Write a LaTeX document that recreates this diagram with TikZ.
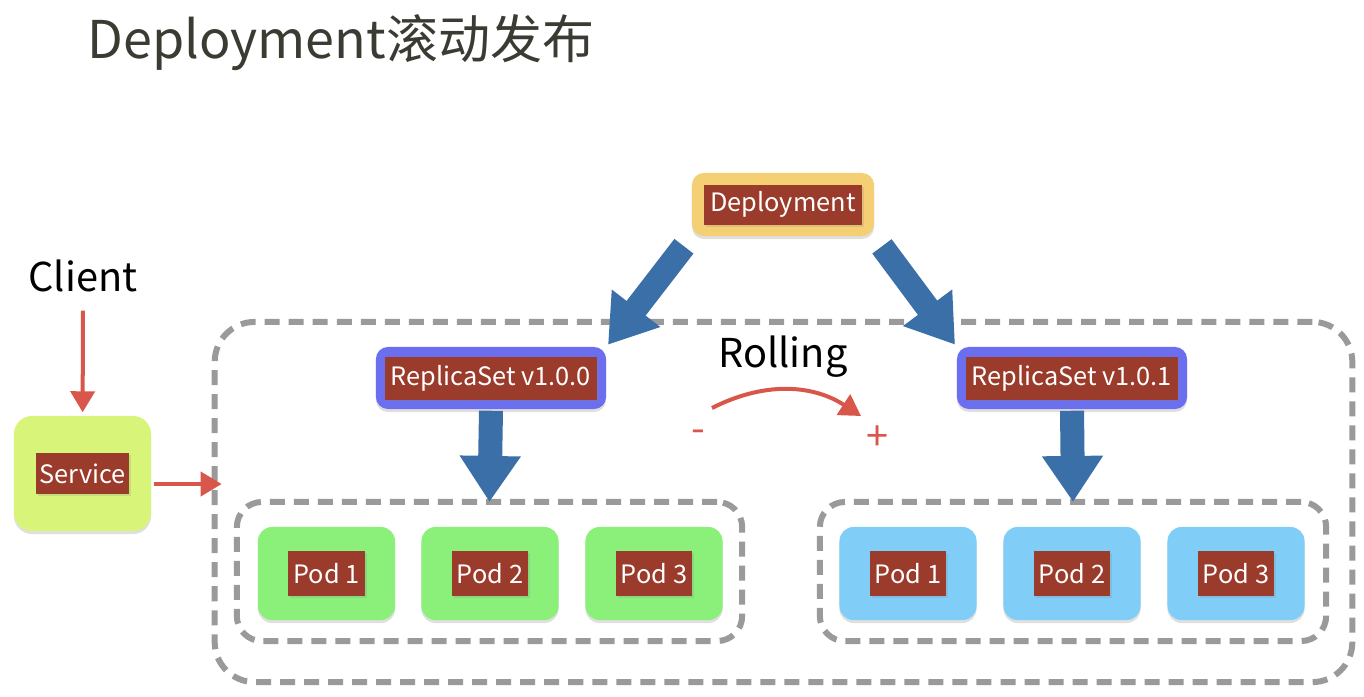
\documentclass[tikz,border=0pt]{standalone}
\usepackage{fontspec}
\setmainfont{Noto Sans CJK SC}
\usetikzlibrary{arrows.meta,positioning,shadows}
\definecolor{tagred}{HTML}{9A3B2B}
\definecolor{depyellow}{HTML}{F5CF73}
\definecolor{rsblue}{HTML}{6C6EF0}
\definecolor{svcgreen}{HTML}{D8F57A}
\definecolor{podgreen}{HTML}{8BF07A}
\definecolor{podblue}{HTML}{80CEF7}
\definecolor{arrowblue}{HTML}{3A6FA8}
\definecolor{linered}{HTML}{D9574A}
\definecolor{dashgray}{HTML}{9A9A9A}
\definecolor{titlegray}{HTML}{3B3B33}

\begin{document}
\begin{tikzpicture}[x=0.01cm, y=-0.01cm,
	every node/.style={font=\fontsize{7.2}{9}\selectfont},
	box/.style={rounded corners=1.4mm, inner sep=0pt, drop shadow={opacity=0.25, shadow xshift=0pt, shadow yshift=-0.3mm}},
	tag/.style={fill=tagred, text=white, inner sep=0pt, minimum height=4.3mm, drop shadow={opacity=0.2, shadow xshift=0.2mm, shadow yshift=-0.2mm}},
	podbox/.style={box, minimum width=13.7mm, minimum height=9.3mm},
	dashbox/.style={draw=dashgray, line width=0.6mm, dash pattern=on 1.5mm off 0.9mm, inner sep=0pt},
	bigarrow/.style={draw=arrowblue, line width=2.4mm, -{Triangle[length=4.6mm,width=5.8mm]}},
	redarrow/.style={draw=linered, line width=0.4mm, -{Triangle[length=2.1mm,width=2.4mm]}},
	bigtext/.style={font=\fontsize{11.3}{13}\selectfont}]
	\useasboundingbox (0,0) rectangle (1364,696);
	% title
	\node[anchor=base west, text=titlegray, font=\fontsize{14.8}{17}\selectfont] (title) at (75,58) {Deployment滚动发布};
	% dashed frames
	\node[dashbox, rounded corners=4mm, minimum width=11.37cm, minimum height=3.6cm] (outer) at (783.5,502) {};
	\node[dashbox, rounded corners=2.5mm, minimum width=5.05cm, minimum height=1.39cm] (podsold) at (489.5,571.5) {};
	\node[dashbox, rounded corners=2.5mm, minimum width=5.06cm, minimum height=1.39cm] (podsnew) at (1073,571.5) {};
	% deployment
	\node[box, fill=depyellow, rounded corners=1.2mm, minimum width=18.2mm, minimum height=6.3mm] (dep) at (783,204.5) {};
	\node[tag, minimum width=15.8mm, minimum height=4mm] at (dep.center) {Deployment};
	% replica sets
	\node[box, fill=rsblue, rounded corners=1.2mm, minimum width=23mm, minimum height=6.2mm] (rsold) at (491,378) {};
	\node[tag, minimum width=21.1mm] at (rsold.center) {ReplicaSet v1.0.0};
	\node[box, fill=rsblue, rounded corners=1.2mm, minimum width=23mm, minimum height=6.2mm] (rsnew) at (1072,378) {};
	\node[tag, minimum width=21.1mm] at (rsnew.center) {ReplicaSet v1.0.1};
	% pods
	\foreach \x/\n in {326.5/1, 490/2, 654/3} {
		\node[podbox, fill=podgreen] (old\n) at (\x,573.5) {};
		\node[tag, minimum width=7.6mm, minimum height=4.5mm] at (old\n.center) {Pod \n};
	}
	\foreach \x/\n in {908/1, 1072/2, 1236/3} {
		\node[podbox, fill=podblue] (new\n) at (\x,573.5) {};
		\node[tag, minimum width=7.6mm, minimum height=4.5mm] at (new\n.center) {Pod \n};
	}
	% client and service
	\node[bigtext] (client) at (83,276) {Client};
	\node[box, fill=svcgreen, rounded corners=1.8mm, minimum width=13.7mm, minimum height=11.5mm] (svc) at (82.5,473.5) {};
	\node[tag, minimum width=9.2mm, minimum height=4.1mm] at (svc.center) {Service};
	\draw[redarrow, shorten <=0.6mm, shorten >=0.3mm] (client) -- (svc);
	\draw[redarrow, shorten <=0.2mm, shorten >=-1mm] (svc.east |- 0,484) -- (outer.west |- 0,484);
	% rolling
	\node[bigtext] (rolling) at (783,357) {Rolling};
	\node[text=linered, bigtext] (minus) at (698,436) {-};
	\node[text=linered, bigtext] (plus) at (878,438) {+};
	\coordinate (rollfrom) at (712,408);
	\coordinate (rollto) at (861,416);
	\draw[redarrow] (rollfrom) to[bend left=30] (rollto);
	% blue arrows
	\draw[bigarrow, shorten <=1.2mm, shorten >=0.2mm] (dep.south west) -- (rsold.north east);
	\draw[bigarrow, shorten <=1.2mm, shorten >=0.2mm] (dep.south east) -- (rsnew.north west);
	\draw[bigarrow, shorten <=0.1mm, shorten >=-0.3mm] (rsold.south) -- (podsold.north);
	\draw[bigarrow, shorten <=0.1mm, shorten >=-0.3mm] (rsnew.south) -- (podsnew.north);
\end{tikzpicture}
\end{document}
